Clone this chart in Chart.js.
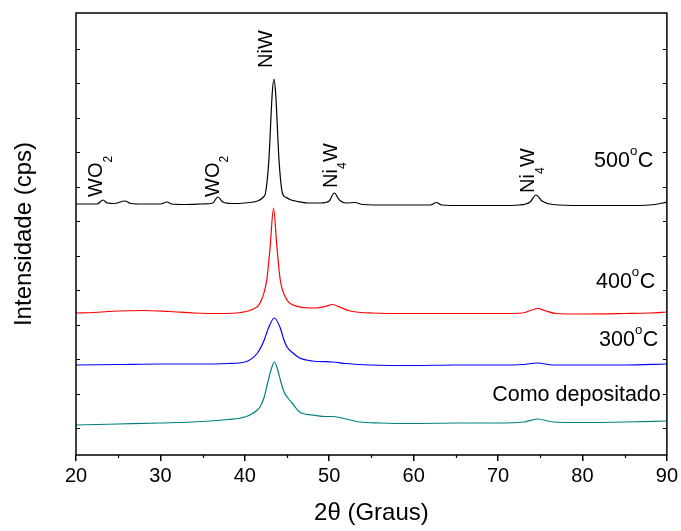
<!DOCTYPE html>
<html><head><meta charset="utf-8">
<script src="https://cdn.jsdelivr.net/npm/chart.js@4/dist/chart.umd.min.js"></script>
<style>html,body{margin:0;padding:0;background:#fff;} canvas{display:block;}</style>
</head><body>
<canvas id="c" width="681" height="531"></canvas>
<script>
// ---- data (intensity in arbitrary offset units) ----
const xTicks = [20, 30, 40, 50, 60, 70, 80, 90];
const xMinorTicks = [25, 35, 45, 55, 65, 75, 85];
const yTickValues = [27, 61.5, 96, 130.5, 165, 199.5, 234, 268.5, 303, 337.5, 372, 406.5];

const theta500 = [20, 21.5, 22.5, 23.2, 23.7, 24.5, 25.8, 26.5, 28, 30, 30.8, 31.3, 33, 35, 36.2, 36.8, 37.4, 38.5, 40, 41, 41.5, 42.2, 42.45, 42.85, 43.25, 43.45, 43.65, 44.05, 44.45, 44.8, 45.5, 46, 47.5, 49, 50, 50.6, 51.2, 52, 53, 54, 57, 60, 62, 62.7, 63.3, 66, 70, 72.5, 73.8, 74.5, 75.2, 76.5, 80, 85, 88, 89.5, 90];
const int500   = [251, 251, 251, 255, 252, 251.5, 254, 251.5, 251, 251, 253, 251, 250.5, 251, 252, 258, 253, 251.5, 252, 253, 254, 258, 262, 295, 362, 376, 362, 295, 262, 258, 255, 254, 252, 252, 254, 262, 255, 252, 252.5, 250.5, 250, 250, 250, 252.5, 250, 249.5, 249.5, 250, 253, 260, 254, 250.5, 249.5, 249.5, 250, 252, 253];

const theta400 = [20, 22, 25, 28, 31, 34, 37, 39.5, 41, 41.8, 42.6, 43, 43.4, 43.8, 44.2, 45, 45.7, 47, 48.5, 49.5, 50.4, 51.2, 52.5, 55, 60, 65, 70, 72.9, 74, 74.7, 75.5, 76.9, 80, 85, 88, 90];
const int400   = [142, 142.5, 144, 144.5, 143.5, 142, 141.5, 142.5, 146, 152, 175, 208, 247, 208, 175, 155, 150, 147.5, 147, 148.5, 150.5, 148, 144, 142, 141.5, 141.5, 141.5, 142, 145, 146.5, 144.5, 141.5, 141, 141.5, 142, 143];

const theta300 = [20, 25, 30, 35, 38, 40, 41.5, 42.3, 42.8, 43.5, 44.2, 44.6, 45, 45.7, 46.5, 48, 50.4, 52, 55, 60, 65, 70, 73, 74.7, 76.5, 80, 85, 90];
const int300   = [90, 90.5, 91, 91, 91.5, 93, 102, 115, 127, 137, 127, 116, 108, 102, 97, 94, 93, 91.5, 90, 89.5, 90, 90, 90.5, 92, 90, 90, 90, 91];

const thetaDep = [20, 25, 30, 35, 38, 40, 41, 41.8, 42.3, 42.7, 43.1, 43.5, 43.9, 44.3, 44.7, 45.1, 45.6, 46.5, 48, 49.5, 50.4, 51.5, 53.6, 56, 60, 65, 70, 73, 74.7, 76.5, 80, 85, 90];
const intDep   = [30, 31, 32, 33.5, 35.5, 38, 42, 48, 58, 72, 85, 93, 85, 72, 62, 57, 52, 43, 40, 38.5, 38.5, 37, 33, 32, 31.5, 32, 32, 33, 36, 33, 32.5, 33, 34];

const seriesNames  = ['500°C', '400°C', '300°C', 'Como depositado'];
const seriesColors = ['#000000', '#ff0000', '#0000ff', '#008080'];

// text annotations: [parts], anchor 2θ, anchor intensity
const peakLabels = [
  { parts: [['WO', ''], ['2', 'sub']], x: 22.25, y: 258 },
  { parts: [['WO', ''], ['2', 'sub']], x: 36.08, y: 258 },
  { parts: [['NiW', '']], x: 42.35, y: 387 },
  { parts: [['Ni', ''], ['4', 'sub'], ['W', '']], x: 50.03, y: 267 },
  { parts: [['Ni', ''], ['4', 'sub'], ['W', '']], x: 73.45, y: 262 }
];
const tempLabels = [
  { parts: [['500', ''], ['o', 'sup'], ['C', '']], x: 81.37, y: 295.5 },
  { parts: [['400', ''], ['o', 'sup'], ['C', '']], x: 81.6, y: 175 },
  { parts: [['300', ''], ['o', 'sup'], ['C', '']], x: 81.96, y: 116.5 },
  { parts: [['Como depositado', '']], x: 69.31, y: 62 }
];

const FONT = '"Liberation Sans", Arial, Helvetica, sans-serif';

function zip(xs, ys) { return xs.map((x, i) => ({ x: x, y: ys[i] })); }
const allX = [theta500, theta400, theta300, thetaDep];
const allY = [int500, int400, int300, intDep];

const datasets = seriesNames.map((n, i) => ({
  label: n,
  data: zip(allX[i], allY[i]),
  borderColor: seriesColors[i],
  backgroundColor: seriesColors[i],
  borderWidth: 1.2,
  pointRadius: 0,
  fill: false,
  cubicInterpolationMode: 'monotone'
}));

function drawParts(ctx, parts, size, mainBaseline) {
  let x = 0;
  for (const [t, kind] of parts) {
    let fs = size, by = mainBaseline;
    if (kind === 'sub') { fs = size * 0.6; by = mainBaseline + size * 0.47; }
    if (kind === 'sup') { fs = size * 0.62; by = mainBaseline - size * 0.55; }
    ctx.font = fs + 'px ' + FONT;
    ctx.fillText(t, x, by);
    x += ctx.measureText(t).width + (kind ? 0.5 : 0);
  }
}

const decor = {
  id: 'decor',
  afterDraw(chart) {
    const ctx = chart.ctx, a = chart.chartArea;
    const xs = chart.scales.x, ys = chart.scales.y;
    ctx.save();
    ctx.strokeStyle = '#000';
    ctx.lineWidth = 1.5;
    ctx.strokeRect(a.left, a.top, a.right - a.left, a.bottom - a.top);
    ctx.lineWidth = 1.2;
    ctx.beginPath();
    for (const v of xMinorTicks) {
      const px = Math.round(xs.getPixelForValue(v)) + 0.5;
      ctx.moveTo(px, a.bottom); ctx.lineTo(px, a.bottom + 3);
    }
    for (const v of yTickValues) {
      const py = Math.round(ys.getPixelForValue(v)) + 0.5;
      ctx.moveTo(a.left, py); ctx.lineTo(a.left + 4, py);
      ctx.moveTo(a.right, py); ctx.lineTo(a.right - 4, py);
    }
    ctx.stroke();

    ctx.fillStyle = '#000';
    ctx.textBaseline = 'alphabetic';
    ctx.textAlign = 'left';
    for (const L of peakLabels) {
      const px = xs.getPixelForValue(L.x), py = ys.getPixelForValue(L.y);
      ctx.save();
      ctx.translate(px, py);
      ctx.rotate(-Math.PI / 2);
      drawParts(ctx, L.parts, 20, 20 * 0.358);
      ctx.restore();
    }
    for (const L of tempLabels) {
      const px = xs.getPixelForValue(L.x), py = ys.getPixelForValue(L.y);
      ctx.save();
      ctx.translate(px, py);
      drawParts(ctx, L.parts, 21.5, 21.5 * 0.358);
      ctx.restore();
    }
    ctx.restore();
  }
};

new Chart(document.getElementById('c'), {
  type: 'line',
  data: { datasets: datasets },
  options: {
    responsive: false,
    animation: false,
    devicePixelRatio: 1,
    layout: { padding: { top: 13, right: 13, left: 0, bottom: 0 } },
    plugins: { legend: { display: false }, tooltip: { enabled: false } },
    scales: {
      x: {
        type: 'linear',
        min: 20, max: 90,
        afterFit(s) { s.height = 76; },
        afterBuildTicks(s) { s.ticks = xTicks.map(v => ({ value: v })); },
        border: { display: false },
        grid: { display: true, drawOnChartArea: false, drawTicks: true, tickLength: 6, color: '#000', lineWidth: 1.5 },
        ticks: { color: '#000', padding: 3, maxRotation: 0, font: { family: FONT, size: 20 } },
        title: { display: true, text: '2θ (Graus)', color: '#000', font: { family: FONT, size: 24 }, padding: { top: 0, bottom: 3 } }
      },
      y: {
        type: 'linear',
        min: 0, max: 442,
        afterFit(s) { s.width = 76; },
        border: { display: false },
        grid: { display: false },
        ticks: { display: false },
        title: { display: true, text: 'Intensidade (cps)', color: '#000', font: { family: FONT, size: 24 }, padding: { top: 10, bottom: 0 } }
      }
    }
  },
  plugins: [decor]
});
</script>
</body></html>
